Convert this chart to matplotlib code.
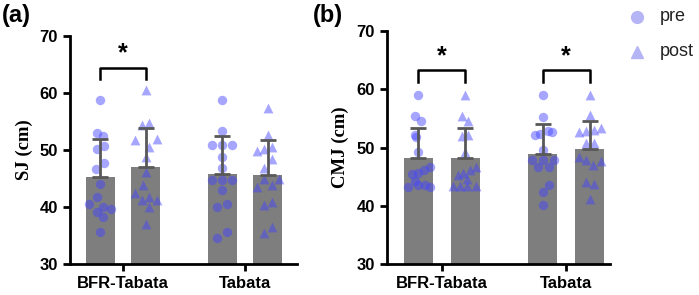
import matplotlib.pyplot as plt
from matplotlib.lines import Line2D
import numpy as np

plt.rcParams['font.family'] = ['Liberation Sans', 'DejaVu Sans']

groups = ['BFR-Tabata', 'Tabata']
legend_labels = ['pre', 'post']

# panel (a) SJ
sj_mean = [45.2, 47.1, 45.8, 45.7]
sj_top = [52.0, 53.9, 52.4, 51.8]
sj_bfr_pre = [58.7, 53.0, 52.5, 50.1, 50.7, 47.7, 46.6, 44.0, 41.8, 40.5, 40.05, 39.7, 39.2, 38.3, 35.7]
sj_bfr_pre_jit = [0, -3, 3, -3, 4, 4, -4, 0, -3, -11, 3, 11, -3, 3, 0]
sj_bfr_post = [60.5, 54.4, 54.7, 51.75, 51.9, 50.5, 48.7, 46.2, 43.9, 42.4, 41.2, 41.8, 41.2, 40.05, 37.0]
sj_bfr_post_jit = [0, -4, 3, -11, 11, 3, 0, 0, -3, -11, -4, 3, 11, 3, 0]
sj_tab_pre = [58.8, 53.4, 50.8, 50.8, 50.8, 48.8, 46.8, 44.7, 44.7, 44.7, 42.9, 40.05, 40.5, 35.7, 34.5]
sj_tab_pre_jit = [0, 0, -10, 0, 10, 0, 0, -10, 0, 10, 0, -5, 5, 5, -5]
sj_tab_post = [57.3, 52.6, 49.9, 50.1, 50.6, 48.4, 46.8, 44.9, 44.9, 43.5, 43.9, 40.4, 40.9, 35.4, 36.5]
sj_tab_post_jit = [0, 0, -11, -4, 4, 4, -4, -4, 11, -11, 4, -4, 4, -4, 4]

# panel (b) CMJ
cmj_mean = [48.2, 48.2, 48.9, 49.7]
cmj_top = [53.3, 53.3, 54.0, 54.6]
cmj_bfr_pre = [59.0, 55.4, 54.6, 52.2, 51.8, 49.3, 46.7, 46.2, 45.6, 45.4, 44.2, 43.6, 43.6, 43.2, 43.2]
cmj_bfr_pre_jit = [0, -3, 3, -3, -2, 0, 12, 6, 0, -6, -3, 0, 7, -10, 12]
cmj_bfr_post = [59.0, 55.4, 54.6, 51.9, 52.2, 49.3, 46.6, 46.1, 45.7, 45.2, 44.6, 43.4, 43.4, 43.4, 43.4]
cmj_bfr_post_jit = [0, -3, 3, -3, 3, 0, 11, 5, -2, -7, 2, -12, -5, 2, 11]
cmj_tab_pre = [59.0, 55.2, 52.2, 52.4, 52.9, 52.6, 49.5, 47.8, 47.8, 47.8, 46.6, 46.6, 43.6, 42.3, 40.2]
cmj_tab_pre_jit = [0, 0, -8, -3, 5, 9, 0, -11, 0, 11, -5, 6, 6, 0, 0]
cmj_tab_post = [59.0, 55.6, 52.7, 52.9, 53.0, 53.4, 50.7, 50.8, 48.4, 47.9, 47.0, 47.6, 44.1, 43.8, 41.1]
cmj_tab_post_jit = [0, 0, -11, -4, 4, 11, -4, 4, -11, -4, 3, 11, -4, 4, 0]

pt_color = '#4545ff'
bar_color = '#7e7e7e'
err_color = '#585858'


def draw_panel(ax, means, tops, pts, jits, pairs, off, px, ylab):
    xs = []
    for g in range(2):
        xs += [g - off, g + off]
    ax.bar(xs, means, width=29 / px, color=bar_color, zorder=1)
    markers = ['o', '^', 'o', '^']
    for x, vals, jit, m in zip(xs, pts, jits, markers):
        ax.scatter(x + np.array(jit) / px, vals, s=46 if m == 'o' else 50, marker=m,
                   color=pt_color, alpha=0.48, linewidths=0, zorder=2)
    err = np.array(tops) - np.array(means)
    ax.errorbar(xs, means, yerr=[np.zeros(4), err], fmt='none', ecolor=err_color,
                elinewidth=2, capsize=5.5, capthick=2, zorder=3)
    for g, (ytop, yleg, ystar) in pairs:
        x0, x1 = g - off, g + off
        ax.plot([x0, x0, x1, x1], [yleg, ytop, ytop, yleg], color='black', lw=1.8,
                clip_on=False, zorder=4)
        ax.text(g, ystar, '*', ha='center', va='center', fontsize=18, fontweight='bold')
    ax.set_ylim(30, 70)
    ax.set_yticks([30, 40, 50, 60, 70])
    ax.set_xticks([0, 1])
    ax.set_xticklabels(groups)
    for s in ['top', 'right']:
        ax.spines[s].set_visible(False)
    for s in ['left', 'bottom']:
        ax.spines[s].set_linewidth(2)
    ax.tick_params(width=2, length=5, labelsize=12)
    for lab in ax.get_xticklabels() + ax.get_yticklabels():
        lab.set_fontweight('bold')
    ax.set_ylabel(ylab, family=['Liberation Serif'], fontweight='bold', fontsize=13.5, labelpad=5)


fig = plt.figure(figsize=(6.99, 2.95), dpi=100)
ax1 = fig.add_axes([0.100, 0.105, 0.325, 0.773])
ax2 = fig.add_axes([0.553, 0.105, 0.320, 0.790])

draw_panel(ax1, sj_mean, sj_top, [sj_bfr_pre, sj_bfr_post, sj_tab_pre, sj_tab_post],
           [sj_bfr_pre_jit, sj_bfr_post_jit, sj_tab_pre_jit, sj_tab_post_jit],
           [(0, (64.3, 62.5, 67.0))], 22.7 / 122, 122, 'SJ (cm)')
ax1.set_xlim(-0.434, 1.426)

draw_panel(ax2, cmj_mean, cmj_top, [cmj_bfr_pre, cmj_bfr_post, cmj_tab_pre, cmj_tab_post],
           [cmj_bfr_pre_jit, cmj_bfr_post_jit, cmj_tab_pre_jit, cmj_tab_post_jit],
           [(0, (63.3, 61.3, 65.6)), (1, (63.3, 61.3, 65.6))], 23.5 / 124, 124, 'CMJ (cm)')
ax2.set_xlim(-0.446, 1.355)

fig.text(0.003, 0.985, '(a)', fontsize=17, fontweight='bold', va='top', ha='left')
fig.text(0.447, 0.985, '(b)', fontsize=17, fontweight='bold', va='top', ha='left')

# legend, drawn by hand in figure coordinates
for (m, lab, y) in zip(['o', '^'], legend_labels, [0.943, 0.825]):
    fig.add_artist(Line2D([0.911], [y], marker=m, ls='none', color='#b5b5f6',
                          markersize=8.5, transform=fig.transFigure))
    fig.text(0.944, y, lab, fontsize=13, va='center', ha='left', color='#222222')

fig.savefig('out.png', dpi=100)
